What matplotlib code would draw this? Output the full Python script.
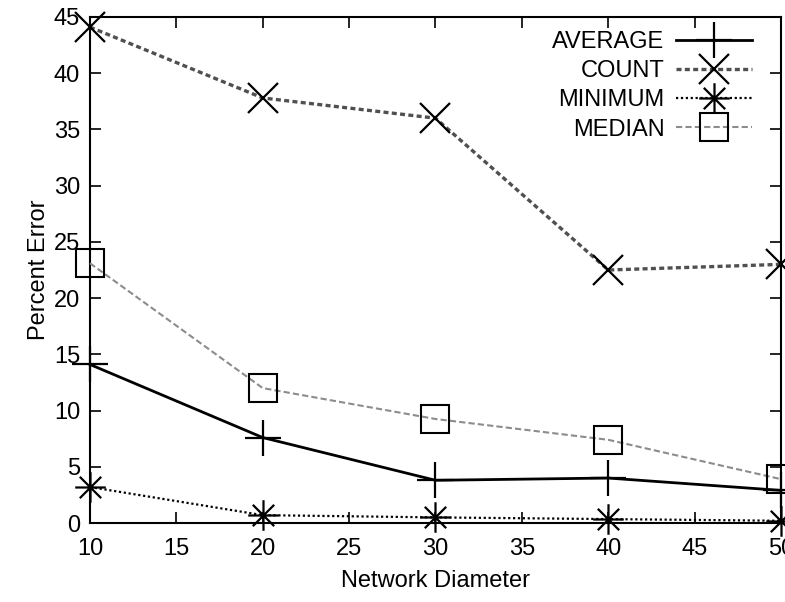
import matplotlib.pyplot as plt
from matplotlib.path import Path

plt.rcParams['font.family'] = ['Liberation Sans', 'DejaVu Sans']

# data
diameter = [10, 20, 30, 40, 50]
average = [14.1, 7.6, 3.8, 4.0, 2.9]
count = [44.1, 37.8, 36.0, 22.5, 23.0]
minimum = [3.2, 0.7, 0.5, 0.35, 0.2]
median = [23.1, 12.0, 9.25, 7.4, 3.9]

# gnuplot-like asterisk marker (+ and x on top of each other)
star = Path([(-1, 0), (1, 0), (0, -1), (0, 1),
             (-0.7, -0.7), (0.7, 0.7), (-0.7, 0.7), (0.7, -0.7)],
            [Path.MOVETO, Path.LINETO] * 4)

fig = plt.figure(figsize=(7.85, 6.02), dpi=100)
ax = fig.add_axes([0.1146, 0.1312, 0.8803, 0.8406])

ax.plot(diameter, average, color='black', lw=2.0, marker='+', ms=26, mew=1.6,
        label='AVERAGE', clip_on=False, zorder=4)
ax.plot(diameter, count, color='#505050', lw=2.4, ls=(0, (1.5, 1)), marker='x',
        ms=22, mew=1.6, mec='black', label='COUNT', clip_on=False, zorder=3)
ax.plot(diameter, minimum, color='black', lw=1.6, ls=(0, (1, 1.2)), marker=star,
        ms=22, mew=1.6, mfc='none', label='MINIMUM', clip_on=False, zorder=5)
ax.plot(diameter, median, color='#8c8c8c', lw=1.5, ls=(0, (3, 1.5)),
        marker='s', ms=20, mew=1.5, mfc='none', mec='black', label='MEDIAN',
        clip_on=False, zorder=3)

ax.set_xlim(10, 50)
ax.set_ylim(0, 45)
ax.set_xticks(range(10, 51, 5))
ax.set_yticks(range(0, 46, 5))
ax.tick_params(direction='in', length=8, width=1.2, top=True, right=True,
               labelsize=17)
ax.tick_params(axis='x', pad=11)
ax.tick_params(axis='y', pad=7)
for s in ax.spines.values():
    s.set_linewidth(1.5)

ax.set_xlabel('Network Diameter', fontsize=17, labelpad=7)
ax.set_ylabel('Percent Error', fontsize=17, labelpad=3)

ax.legend(loc='upper right', bbox_to_anchor=(0.975, 0.995), frameon=False,
          markerfirst=False, fontsize=17, handlelength=3.2, labelspacing=0.3,
          handletextpad=0.5, borderaxespad=0.1)

fig.savefig('out.png', dpi=100)
